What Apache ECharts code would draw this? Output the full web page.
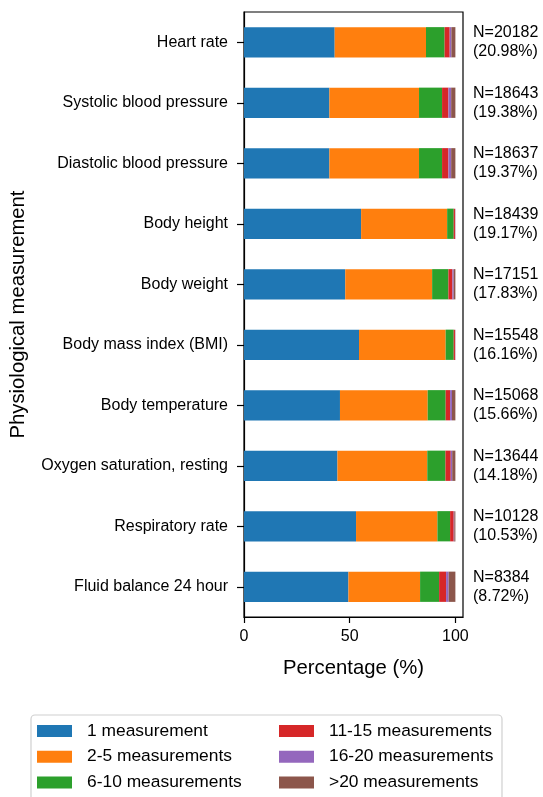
<!DOCTYPE html>
<html>
<head>
<meta charset="utf-8">
<script src="https://cdn.jsdelivr.net/npm/echarts@6/dist/echarts.min.js"></script>
<style>
  html, body { margin: 0; padding: 0; background: #fff; }
  #chart { width: 543px; height: 797px; }
</style>
</head>
<body>
<div id="chart"></div>
<script>
// Physiological measurements, listed top to bottom
const categories = [
  'Heart rate',
  'Systolic blood pressure',
  'Diastolic blood pressure',
  'Body height',
  'Body weight',
  'Body mass index (BMI)',
  'Body temperature',
  'Oxygen saturation, resting',
  'Respiratory rate',
  'Fluid balance 24 hour'
];

// Share of patients (%) by number of measurements recorded
const oneMeasurement     = [42.9, 40.4, 40.4, 55.4, 47.9, 54.4, 45.4, 44.2, 53.0, 49.4];
const twoToFive          = [43.2, 42.4, 42.4, 40.7, 41.1, 41.0, 41.5, 42.5, 38.5, 33.9];
const sixToTen           = [ 8.8, 10.9, 10.9,  3.1,  7.7,  3.8,  8.5,  8.6,  6.0,  9.0];
const elevenToFifteen    = [ 2.4,  3.0,  3.0,  0.6,  1.9,  0.6,  2.1,  2.5,  1.7,  3.3];
const sixteenToTwenty    = [ 0.8,  1.3,  1.3,  0.1,  0.6,  0.1,  0.9,  0.7,  0.3,  1.2];
const overTwenty         = [ 1.9,  2.0,  2.0,  0.1,  0.8,  0.1,  1.6,  1.5,  0.5,  3.2];

// Patient counts and their share of the cohort
const patientCounts = [20182, 18643, 18637, 18439, 17151, 15548, 15068, 13644, 10128, 8384];
const cohortShare   = ['20.98', '19.38', '19.37', '19.17', '17.83', '16.16', '15.66', '14.18', '10.53', '8.72'];

const xTicks = [0, 50, 100];

const seriesNames = [
  '1 measurement', '2-5 measurements', '6-10 measurements',
  '11-15 measurements', '16-20 measurements', '>20 measurements'
];
const seriesData = [oneMeasurement, twoToFive, sixToTen, elevenToFifteen, sixteenToTwenty, overTwenty];
const colors = ['#1f77b4', '#ff7f0e', '#2ca02c', '#d62728', '#9467bd', '#8c564b'];

const FONT = '"Liberation Sans", Arial, sans-serif';
const INK = '#000';

const chart = echarts.init(document.getElementById('chart'), null, { renderer: 'canvas' });

// two legend columns, three entries each
const legendCommon = {
  orient: 'vertical',
  top: 722,
  height: 120,
  padding: 0,
  itemWidth: 35,
  itemHeight: 12,
  itemGap: 7.7,
  icon: 'rect',
  selectedMode: false,
  textStyle: { fontFamily: FONT, fontSize: 17.4, color: INK, lineHeight: 18, padding: [0, 0, 0, 10] }
};

chart.setOption({
  animation: false,
  color: colors,
  textStyle: { fontFamily: FONT },
  grid: {
    left: 244, right: 80, top: 12, bottom: 180,
    outerBoundsMode: 'none',
    containLabel: false,
    show: true, borderColor: INK, borderWidth: 1.2, backgroundColor: 'transparent'
  },
  legend: [
    Object.assign({ left: 37, data: seriesNames.slice(0, 3) }, legendCommon),
    Object.assign({ left: 279, data: seriesNames.slice(3) }, legendCommon)
  ],
  graphic: [{
    type: 'rect',
    silent: true,
    z: -1,
    shape: { x: 31, y: 715, width: 471, height: 110, r: 4 },
    style: { fill: '#fff', stroke: '#d0d0d0', lineWidth: 1.2 }
  }],
  xAxis: {
    type: 'value',
    min: 0,
    max: 103.6,
    interval: 50,
    name: 'Percentage (%)',
    nameLocation: 'middle',
    nameGap: 41,
    nameTextStyle: { fontFamily: FONT, fontSize: 20.3, color: INK },
    axisLine: { show: true, lineStyle: { color: INK, width: 1.2 } },
    axisTick: { show: true, length: 6, customValues: xTicks, lineStyle: { color: INK, width: 1.2 } },
    axisLabel: { customValues: xTicks, fontFamily: FONT, fontSize: 16, color: INK, margin: 12 },
    splitLine: { show: false }
  },
  yAxis: [
    {
      type: 'category',
      inverse: true,
      data: categories,
      name: 'Physiological measurement',
      nameLocation: 'middle',
      nameGap: 216,
      nameRotate: 90,
      nameTextStyle: { fontFamily: FONT, fontSize: 20.3, color: INK },
      axisLine: { show: true, lineStyle: { color: INK, width: 1.2 } },
      axisTick: { show: true, alignWithLabel: true, length: 7, lineStyle: { color: INK, width: 1.2 } },
      axisLabel: { fontFamily: FONT, fontSize: 16, color: INK, margin: 16 }
    },
    {
      type: 'category',
      inverse: true,
      position: 'right',
      data: categories,
      axisLine: { show: false },
      axisTick: { show: false },
      axisLabel: {
        fontFamily: FONT, fontSize: 16, color: INK, margin: 10, lineHeight: 19, align: 'left',
        formatter: (value, idx) => 'N=' + patientCounts[idx] + '\n(' + cohortShare[idx] + '%)'
      }
    }
  ],
  series: seriesNames.map((name, i) => ({
    name: name,
    type: 'bar',
    stack: 'total',
    barWidth: '50%',
    yAxisIndex: 0,
    data: seriesData[i]
  }))
});
</script>
</body>
</html>
